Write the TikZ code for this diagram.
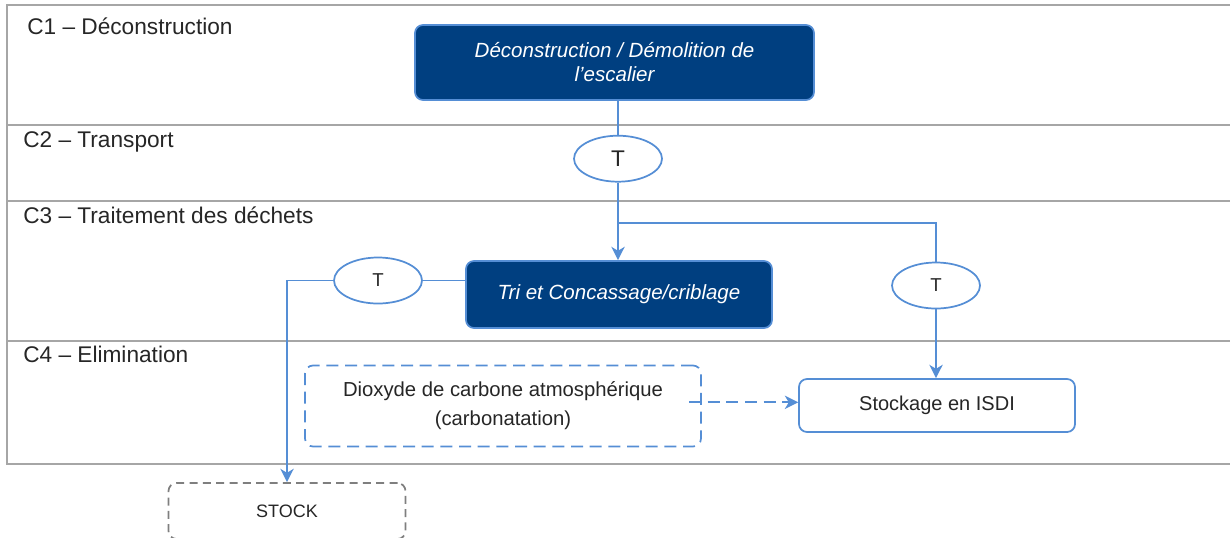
\documentclass[tikz,border=0pt]{standalone}
\usepackage{fontspec}
\setmainfont{Liberation Sans}
\usetikzlibrary{arrows.meta,shapes.geometric}
\definecolor{conn}{HTML}{558ED5}
\definecolor{navy}{HTML}{003F80}
\definecolor{lanegray}{HTML}{A6A6A6}
\definecolor{txt}{HTML}{262626}
\definecolor{stockgray}{HTML}{7F7F7F}
\begin{document}
\begin{tikzpicture}[x=0.75pt,y=-0.75pt,
 lane/.style={draw=lanegray,line width=1.6pt},
 lanelabel/.style={anchor=base west,inner sep=0pt,text=txt,font=\fontsize{17}{20}\selectfont},
 darkbox/.style={draw=conn,fill=navy,line width=1.3pt,rounded corners=6pt,text=white,font=\fontsize{15.4}{18}\selectfont\itshape,align=center,inner sep=0pt},
 lightbox/.style={draw=conn,fill=white,line width=1.3pt,rounded corners=6pt,text=txt,font=\fontsize{15}{18}\selectfont,align=center,inner sep=0pt},
 dashbox/.style={lightbox,dash pattern=on 9pt off 5pt,font=\fontsize{15.2}{21.75}\selectfont},
 stockbox/.style={draw=stockgray,line width=1.3pt,rounded corners=6pt,dash pattern=on 6pt off 4pt,text=txt,font=\fontsize{13.5}{16}\selectfont,inner sep=0pt},
 tnode/.style={ellipse,draw=conn,fill=white,line width=1.3pt,inner sep=0pt,minimum width=66pt,minimum height=34.5pt,text=txt,font=\fontsize{14}{16}\selectfont},
 connector/.style={draw=conn,line width=1.4pt},
 arr/.style={connector,-{Stealth[length=10pt,width=10pt,inset=3pt]}},
 dasharr/.style={arr,dash pattern=on 9pt off 5pt},
]
\useasboundingbox (0,0) rectangle (1230,537);
% swimlanes
\draw[lane] (1240,5) -- (7,5) -- (7,464) -- (1240,464);
\draw[lane] (7,125) -- (1240,125);
\draw[lane] (7,201) -- (1240,201);
\draw[lane] (7,341) -- (1240,341);
\node[lanelabel] (l1) at (27,34) {C1 – Déconstruction};
\node[lanelabel] (l2) at (23,147) {C2 – Transport};
\node[lanelabel] (l3) at (23,223) {C3 – Traitement des déchets};
\node[lanelabel] (l4) at (23,362) {C4 – Elimination};
% nodes
\node[darkbox,minimum width=299.25pt,minimum height=56.25pt] (dec) at (614.5,62.5) {Déconstruction / Démolition de\\l’escalier};
\node[tnode,font=\fontsize{17}{20}\selectfont] (t1) at (618,158.7) {T};
\node[darkbox,minimum width=229.5pt,minimum height=50.25pt] (tri) at (619,294.5) {Tri et Concassage/criblage};
\node[tnode] (tl) at (378,280.5) {T};
\node[tnode] (tr) at (936,285.5) {T};
\node[lightbox,minimum width=207pt,minimum height=39.75pt] (isdi) at (937,405.5) {Stockage en ISDI};
\node[dashbox,minimum width=297pt,minimum height=60.75pt,text depth=3pt] (co2) at (503,406) {Dioxyde de carbone atmosphérique\\(carbonatation)};
\node[stockbox,minimum width=177.75pt,minimum height=42pt] (stk) at (287,511) {STOCK};
% connectors
\draw[connector] (t1 |- dec.south) -- (t1.north);
\coordinate (j) at (618,222.7);
\draw[arr] (t1.south) -- (t1 |- tri.north);
\draw[connector] (j) -| (tr.north);
\draw[arr] (tr.south) -- (tr |- isdi.north);
\draw[connector] (tl.east) -- (tl.east -| tri.west);
\draw[arr] (tl.west) -| (stk.north);
\coordinate (ds) at (689,402.3);
\draw[dasharr] (ds) -- (ds -| isdi.west);
\end{tikzpicture}
\end{document}
